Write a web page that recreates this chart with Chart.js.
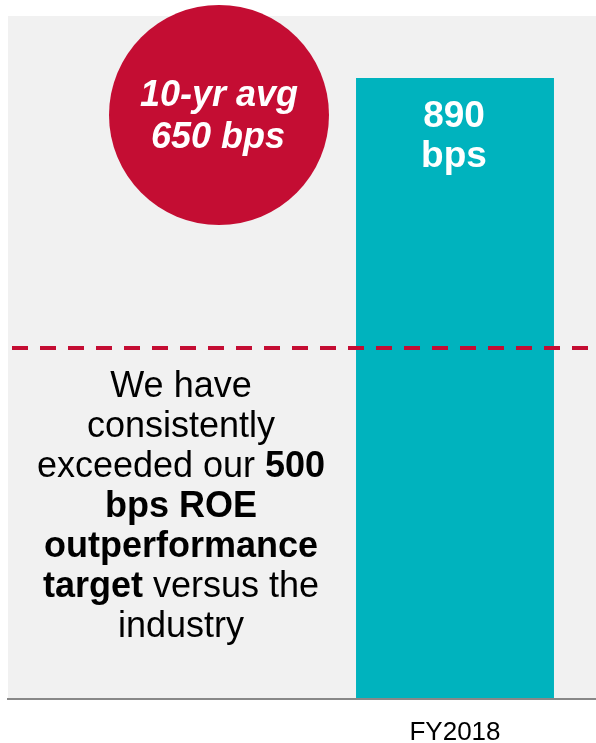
<!DOCTYPE html>
<html>
<head>
<meta charset="utf-8">
<script src="https://cdn.jsdelivr.net/npm/chart.js@4"></script>
<style>
  html, body { margin: 0; padding: 0; background: #ffffff; }
  #wrap { width: 596px; height: 743px; position: relative; }
</style>
</head>
<body>
<div id="wrap"><canvas id="roeChart" width="596" height="743"></canvas></div>
<script>
const categories = ['', 'FY2018'];
const roeValues = [null, 890];
const targetBps = 500;
const avgLabel = ['10-yr avg', '650 bps'];
const barLabel = ['890', 'bps'];
// each line is a list of [text, bold]
const noteLines = [
  [['We have', false]],
  [['consistently', false]],
  [['exceeded our ', false], ['500', true]],
  [['bps ROE', true]],
  [['outperformance', true]],
  [['target', true], [' versus the', false]],
  [['industry', false]]
];

const font = '"Liberation Sans", Arial, sans-serif';

const decorPlugin = {
  id: 'decor',
  beforeDraw(chart) {
    const c = chart.ctx;
    const bottom = chart.scales.y.getPixelForValue(0);
    c.save();
    c.fillStyle = '#f1f1f1';
    c.fillRect(8, 16, 588, bottom - 16);
    c.restore();
  },
  afterDatasetsDraw(chart) {
    const c = chart.ctx;
    const y = chart.scales.y;
    const bottom = y.getPixelForValue(0);
    c.save();

    // axis line
    c.strokeStyle = '#888888';
    c.lineWidth = 2;
    c.beginPath();
    c.moveTo(7, bottom + 1);
    c.lineTo(596, bottom + 1);
    c.stroke();

    // target line
    const ty = Math.round(y.getPixelForValue(targetBps)) - 2;
    c.strokeStyle = '#c40d33';
    c.lineWidth = 4;
    c.setLineDash([16, 12]);
    c.lineDashOffset = 24;
    c.beginPath();
    c.moveTo(8, ty);
    c.lineTo(588, ty);
    c.stroke();
    c.setLineDash([]);

    // avg bubble
    c.fillStyle = '#c40d33';
    c.beginPath();
    c.arc(219, 115, 110, 0, Math.PI * 2);
    c.fill();
    c.fillStyle = '#ffffff';
    c.textAlign = 'center';
    c.textBaseline = 'alphabetic';
    c.font = 'italic bold 36px ' + font;
    c.fillText(avgLabel[0], 219, 106);
    c.fillText(avgLabel[1], 218, 148);

    // bar label
    const bar = chart.getDatasetMeta(0).data[1];
    c.font = 'bold 37px ' + font;
    c.fillText(barLabel[0], bar.x - 1, 127);
    c.fillText(barLabel[1], bar.x - 1, 167);

    // note text
    c.fillStyle = '#000000';
    c.textAlign = 'left';
    noteLines.forEach((line, i) => {
      let w = 0;
      line.forEach(([t, b]) => {
        c.font = (b ? 'bold ' : '') + '36px ' + font;
        w += c.measureText(t).width;
      });
      let x = 181 - w / 2;
      const by = 397 + i * 40;
      line.forEach(([t, b]) => {
        c.font = (b ? 'bold ' : '') + '36px ' + font;
        c.fillText(t, x, by);
        x += c.measureText(t).width;
      });
    });
    c.restore();
  }
};

new Chart(document.getElementById('roeChart'), {
  type: 'bar',
  data: {
    labels: categories,
    datasets: [{
      data: roeValues,
      backgroundColor: '#00b3be',
      borderWidth: 0,
      barPercentage: 0.702,
      categoryPercentage: 1
    }]
  },
  options: {
    responsive: false,
    animation: false,
    layout: { padding: { left: 32, right: 0, top: 16, bottom: 0 } },
    plugins: { legend: { display: false }, tooltip: { enabled: false } },
    scales: {
      x: {
        grid: { display: false, drawTicks: false },
        border: { display: false },
        ticks: { color: '#000000', font: { family: font, size: 26 }, padding: 19 },
        afterFit(scale) { scale.height = 45; }
      },
      y: {
        display: false,
        min: 0,
        max: 979
      }
    }
  },
  plugins: [decorPlugin]
});
</script>
</body>
</html>
